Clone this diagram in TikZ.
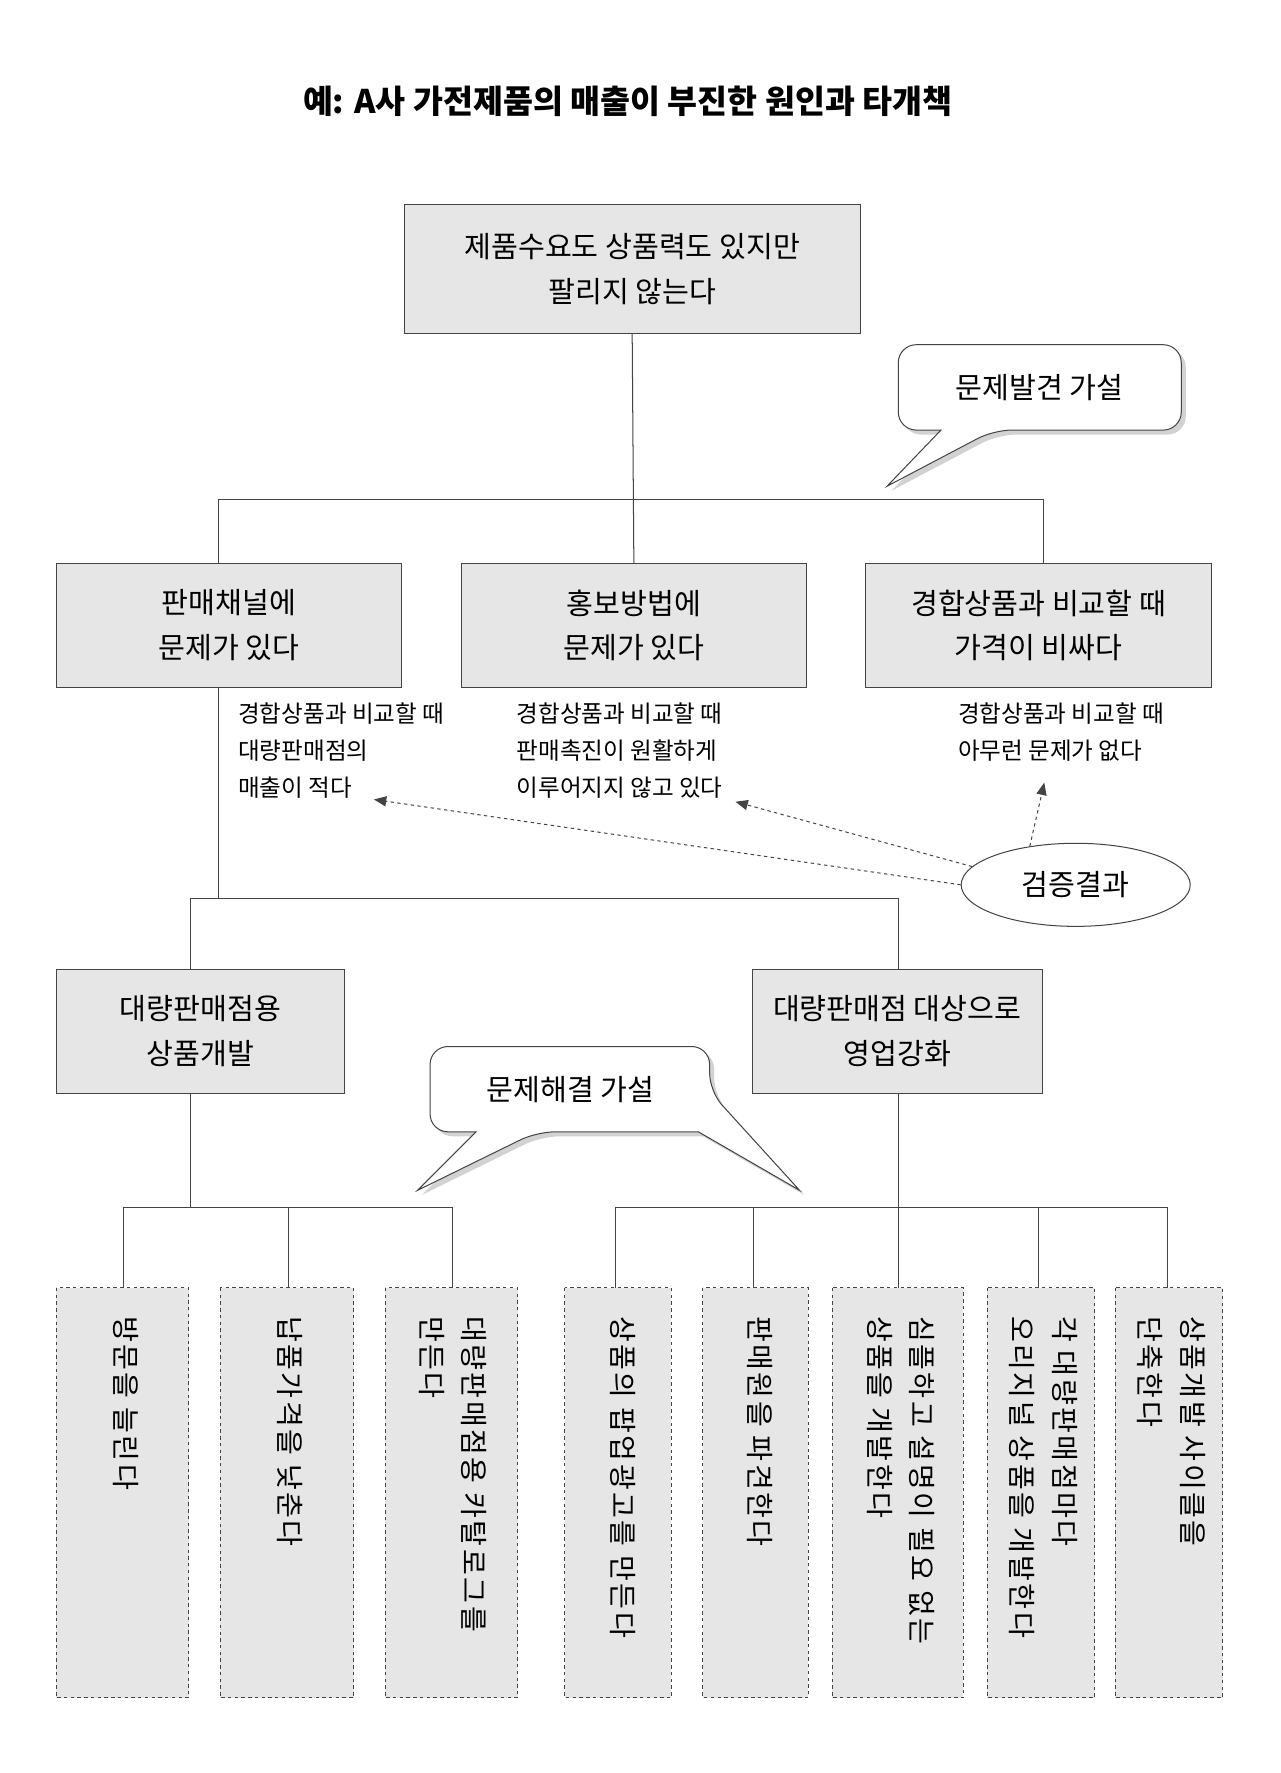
\documentclass[tikz,border=0pt]{standalone}
\usepackage{fontspec}
\setmainfont{Noto Sans CJK KR}
\usetikzlibrary{shapes.geometric,arrows.meta,shadows}
\definecolor{boxgray}{HTML}{E6E6E7}
\definecolor{linegray}{HTML}{444444}
\tikzset{
 solidbox/.style={draw=linegray,line width=0.9pt,fill=boxgray,minimum height=110pt,align=center,font=\fontsize{26}{40}\selectfont},
 leafbox/.style={draw=linegray,dashed,line width=0.9pt,fill=boxgray},
 vtext/.style={rotate=-90,anchor=north west,align=left,font=\fontsize{25}{38}\selectfont\addfontfeatures{LetterSpace=9},inner sep=0pt},
 note/.style={anchor=north west,align=left,font=\fontsize{21}{33}\selectfont,inner sep=0pt},
 conn/.style={draw=linegray,line width=0.9pt},
 varrow/.style={draw=linegray,dashed,line width=0.9pt,-{Triangle[length=11pt,width=9pt]}},
 bubble/.style={draw=linegray,line width=0.9pt,fill=white,drop shadow={shadow xshift=4pt,shadow yshift=-4pt,fill=black!35}},
}
\begin{document}
\begin{tikzpicture}[x=1pt,y=-1pt]
\useasboundingbox (0,0) rectangle (1140,1579);
\node[font=\fontsize{29}{32}\selectfont\bfseries] (title) at (559,90) {예: A사 가전제품의 매출이 부진한 원인과 타개책};
% top
\node[solidbox,minimum width=406pt,minimum height=115pt] (top) at (563,239.5) {제품수요도 상품력도 있지만\\팔리지 않는다};
\node[solidbox,minimum width=308pt] (A) at (204,557) {판매채널에\\문제가 있다};
\node[solidbox,minimum width=307pt] (B) at (564.5,557) {홍보방법에\\문제가 있다};
\node[solidbox,minimum width=308pt] (C) at (925,557) {경합상품과 비교할 때\\가격이 비싸다};
\draw[conn] (top.south) -- (B.north);
\draw[conn] (195,502) -- (195,445) -- (929,445) -- (929,502);
% notes
\node[note] (nA) at (212,626) {경합상품과 비교할 때\\대량판매점의\\매출이 적다};
\node[note] (nB) at (460,626) {경합상품과 비교할 때\\판매촉진이 원활하게\\이루어지지 않고 있다};
\node[note] (nC) at (853,626) {경합상품과 비교할 때\\아무런 문제가 없다};
% bubble 1
\path[bubble,rounded corners=16pt] (800,307) -- (1052,307) -- (1052,383) -- (885,383) [sharp corners] -- (790,433) -- (838,383) [rounded corners=16pt] -- (800,383) -- cycle;
\node[font=\fontsize{26}{28}\selectfont] (b1) at (926,345) {문제발견 가설};
% ellipse
\node[draw=linegray,line width=0.9pt,fill=white,ellipse,minimum width=204pt,minimum height=74pt,font=\fontsize{26}{28}\selectfont] (E1) at (958,788) {검증결과};
\coordinate (tA) at (333,712);
\coordinate (tB) at (655,714);
\coordinate (tC) at (930,697);
\draw[varrow] (E1.west) -- (tA);
\draw[varrow] (E1.170) -- (tB);
\draw[varrow] (E1.140) -- (tC);
% level 3
\node[solidbox,minimum width=257pt] (D) at (178.5,918.5) {대량판매점용\\상품개발};
\node[solidbox,minimum width=258pt] (E) at (799,918.5) {대량판매점 대상으로\\영업강화};
\draw[conn] (195,612) -- (195,800);
\draw[conn] (170,864) -- (170,800) -- (800,800) -- (800,864);
% bubble 2
\path[bubble,rounded corners=16pt] (383,932) -- (632,932) -- (632,972) [sharp corners] -- (712,1060) -- (622,1008) [rounded corners=16pt] -- (478,1008) [sharp corners] -- (372,1060) -- (424,1008) [rounded corners=16pt] -- (383,1008) -- cycle;
\node[font=\fontsize{26}{28}\selectfont] (b2) at (508,970) {문제해결 가설};
% leaves
\foreach \n/\l/\r in {L1/50/168,L2/196/315,L3/343/461,L4/503/598,L5/626/720,L6/741/858,L7/879/975,L8/993/1089}{
 \path[leafbox] (\l,1147) rectangle (\r,1512);
 \coordinate (\n) at ({(\l+\r)/2},1147);
}
\draw[conn] (170,973) -- (170,1075);
\draw[conn] (110,1147) -- (110,1075) -- (403,1075) -- (403,1147);
\draw[conn] (257,1075) -- (257,1147);
\draw[conn] (800,973) -- (800,1147);
\draw[conn] (548,1147) -- (548,1075) -- (1040,1075) -- (1040,1147);
\draw[conn] (671,1075) -- (671,1147);
\draw[conn] (925,1075) -- (925,1147);
% vertical texts
\node[vtext] (v1) at (124,1172) {방문을 늘린다};
\node[vtext] (v2) at (270,1172) {납품가격을 낮춘다};
\node[vtext] (v3) at (434,1172) {대량판매점용 카탈로그를\\만든다};
\node[vtext] (v4) at (566,1172) {상품의 팝업광고를 만든다};
\node[vtext] (v5) at (688,1172) {판매원을 파견한다};
\node[vtext] (v6) at (833,1172) {심플하고 설명이 필요 없는\\상품을 개발한다};
\node[vtext] (v7) at (960,1172) {각 대량판매점마다\\오리지널 상품을 개발한다};
\node[vtext] (v8) at (1074,1172) {상품개발 사이클을\\단축한다};
\end{tikzpicture}
\end{document}
